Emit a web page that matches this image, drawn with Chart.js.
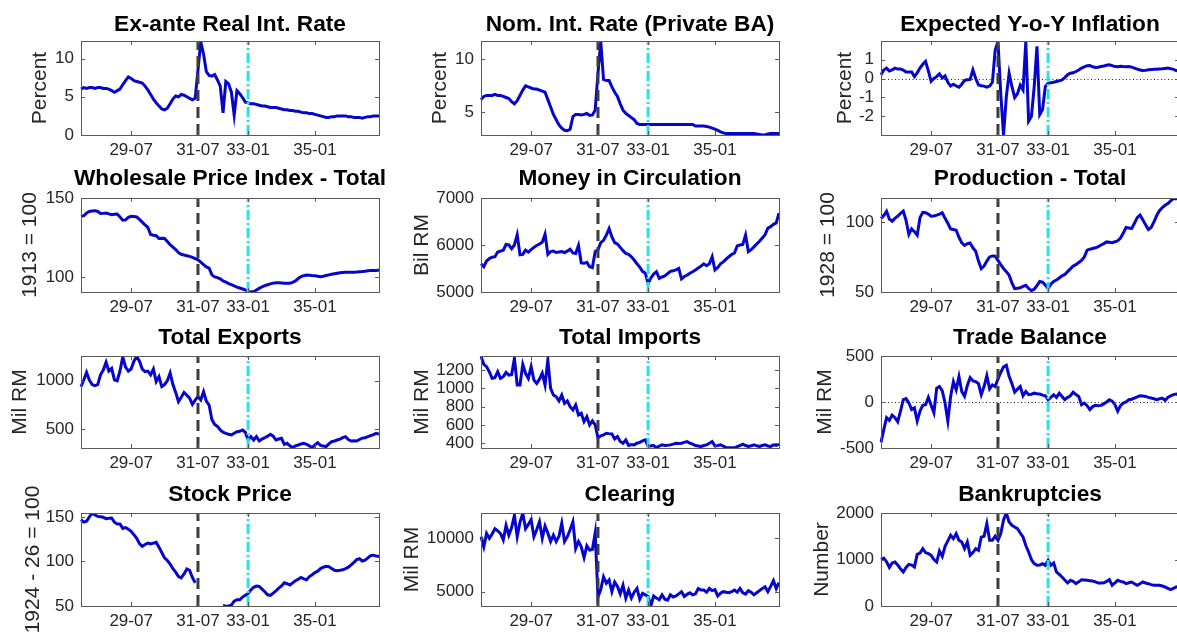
<!DOCTYPE html>
<html>
<head>
<meta charset="utf-8">
<script src="https://cdn.jsdelivr.net/npm/chart.js@4.4.1/dist/chart.umd.min.js"></script>
<style>
  html, body { margin: 0; padding: 0; background: #fff; overflow: hidden; }
  body { width: 1177px; height: 633px; position: relative; }
  canvas { position: absolute; }
</style>
</head>
<body>
<script>
// monthly axis Jan 1928 .. Dec 1936, labels as YY-MM
const months = [];
for (let yr = 28; yr <= 36; yr++) {
    for (let m = 1; m <= 12; m++) months.push(yr + '-' + String(m).padStart(2, '0'));
}
const xTickLabels = ['29-07', '31-07', '33-01', '35-01'];
const crisisMonth = '31-07';
const seizureMonth = '33-01';

// one row per year
const realRate = [
    6.0, 6.2, 6.1, 6.2, 6.2, 6.1, 6.2, 6.2, 6.1, 6.1, 6.0, 5.8,
    5.6, 5.8, 6.0, 6.6, 7.1, 7.6, 7.4, 7.1, 7.0, 6.9, 6.8, 6.4,
    5.9, 5.3, 4.7, 4.2, 3.8, 3.4, 3.3, 3.5, 4.1, 4.7, 5.1, 5.0,
    5.3, 5.2, 5.0, 4.8, 4.6, 4.8, 8.5, 12.2, 10.6, 8.3, 7.8, 7.7,
    7.9, 7.2, 6.4, 2.9, 7.0, 6.7, 5.6, 2.6, 5.8, 5.4, 4.9, 4.3,
    4.2, 4.1, 4.1, 4.0, 3.9, 3.8, 3.8, 3.7, 3.6, 3.6, 3.6, 3.5,
    3.4, 3.3, 3.3, 3.2, 3.2, 3.1, 3.1, 3.0, 2.9, 2.9, 2.8, 2.8,
    2.7, 2.6, 2.5, 2.4, 2.3, 2.3, 2.4, 2.4, 2.5, 2.5, 2.5, 2.5,
    2.4, 2.4, 2.3, 2.3, 2.3, 2.2, 2.3, 2.4, 2.4, 2.5, 2.5, 2.5
];
const nomRate = [
    6.2, 6.5, 6.6, 6.6, 6.6, 6.7, 6.6, 6.6, 6.5, 6.4, 6.3, 6.0,
    5.8, 6.1, 6.6, 7.1, 7.5, 7.4, 7.3, 7.2, 7.2, 7.1, 7.0, 6.9,
    6.2, 5.5, 4.8, 4.3, 3.8, 3.5, 3.3, 3.25, 3.4, 4.6, 4.8, 4.8,
    4.75, 4.8, 4.9, 4.7, 4.75, 5.2, 8.7, 11.7, 8.1, 8.0, 8.0, 7.4,
    6.9, 6.5, 5.8, 5.2, 4.9, 4.7, 4.5, 4.3, 3.95, 3.85, 3.85, 3.85,
    3.85, 3.85, 3.85, 3.85, 3.85, 3.85, 3.85, 3.85, 3.85, 3.85, 3.85, 3.85,
    3.85, 3.85, 3.85, 3.85, 3.85, 3.7, 3.7, 3.7, 3.7, 3.65, 3.6, 3.5,
    3.4, 3.3, 3.15, 3.05, 3.0, 3.0, 3.0, 3.0, 3.0, 3.0, 3.0, 3.0,
    3.0, 3.0, 3.0, 2.95, 2.9, 2.85, 2.85, 2.95, 3.0, 3.0, 3.0, 3.0
];
const expInfl = [
    0.2, 0.45, 0.55, 0.4, 0.45, 0.55, 0.5, 0.5, 0.45, 0.35, 0.35, 0.35,
    0.1, 0.3, 0.55, 0.75, 0.9, 0.4, -0.15, 0.0, 0.1, 0.25, 0.02, 0.14,
    -0.2, -0.39, -0.3, -0.39, -0.46, -0.3, -0.1, -0.07, -0.05, 0.46, 0.0, -0.34,
    -0.38, -0.4, -0.46, -0.4, -0.2, 1.5, 1.95, -0.8, -2.98, -0.95, 0.28, -0.42,
    -1.0, -0.8, -0.35, -0.6, 1.95, -2.25, -2.0, -0.45, 1.7, -1.9, -1.65, -0.42,
    -0.25, -0.22, -0.2, -0.16, -0.12, -0.07, 0.05, 0.2, 0.28, 0.3, 0.37, 0.45,
    0.55, 0.62, 0.68, 0.69, 0.62, 0.58, 0.6, 0.63, 0.66, 0.7, 0.72, 0.68,
    0.63, 0.62, 0.65, 0.63, 0.62, 0.63, 0.6, 0.55, 0.5, 0.45, 0.42, 0.43,
    0.46, 0.47, 0.49, 0.49, 0.5, 0.51, 0.53, 0.55, 0.52, 0.48, 0.42, 0.4
];
const wpi = [
    138.4, 138.8, 140.5, 141.5, 141.8, 142, 141.5, 140.2, 140.3, 140.5, 140, 139.5,
    139.8, 139.9, 138, 136, 136.2, 137.8, 138.4, 138.3, 138, 136.5, 134.8, 133,
    131.4, 127, 126.5, 126.2, 124.5, 124.6, 124.5, 122.5, 120.5, 119, 117.5, 115.5,
    114.5, 114, 113.6, 113.2, 112.5, 111.8, 111, 109.5, 108, 106.5, 105.7, 101.5,
    100.2, 99.8, 99, 97.7, 97, 96, 95.3, 94.5, 93.8, 93.2, 92.6, 92,
    91, 90.9, 90.8, 92, 93, 94, 94.7, 95.3, 95.8, 96.3, 96.6, 96.6,
    96.4, 96.2, 96.2, 96.2, 96.8, 97.7, 99.2, 100.4, 101, 101.4, 101.3, 101.1,
    101, 100.7, 100.4, 100.6, 101.1, 101.5, 101.9, 102.2, 102.5, 102.8, 103, 103.2,
    103.2, 103.2, 103.2, 103.3, 103.5, 103.6, 103.8, 104.1, 104.2, 104.2, 104.2, 104.6
];
const money = [
    5600, 5540, 5660, 5710, 5740, 5750, 5850, 5870, 5890, 6010, 6000, 5920,
    6000, 6220, 5790, 5800, 5890, 5850, 5900, 5950, 5990, 6020, 6060, 6230,
    5800, 5860, 5870, 5840, 5850, 5860, 5840, 5870, 5910, 5830, 5820, 5990,
    5620, 5610, 5630, 5540, 5520, 5860, 5900, 6050, 6100, 6210, 6350, 6170,
    6050, 6020, 5950, 5880, 5820, 5800, 5750, 5680, 5600, 5530, 5440, 5400,
    5180, 5300, 5380, 5430, 5290, 5320, 5340, 5390, 5440, 5450, 5470, 5500,
    5280, 5330, 5360, 5400, 5430, 5470, 5510, 5550, 5600, 5560, 5600, 5750,
    5470, 5520, 5600, 5640, 5700, 5750, 5800, 5830, 5980, 6000, 6010, 6210,
    5860, 5900, 5960, 6020, 6080, 6150, 6220, 6360, 6390, 6440, 6470, 6680
];
const production = [
    102.4, 104.5, 107.5, 102, 100.5, 102.5, 104, 106, 107.6, 101, 91, 95,
    93, 90.5, 103, 106.7, 106.5, 105.5, 104, 104.2, 104.8, 105.5, 106.5, 102.5,
    99, 95, 94.5, 94, 89, 85, 83.3, 84.5, 85, 81.5, 79, 72,
    66.7, 68.5, 72, 75, 75.7, 75.5, 72.5, 69.5, 66.7, 64.5, 62, 56.5,
    52.4, 52.6, 53, 54, 54.8, 52.5, 51, 52, 54.5, 57.5, 57, 55,
    52.4, 55.5, 57.5, 58.5, 60, 61.5, 62.5, 64.5, 66.5, 68.5, 69.5, 71,
    72.5, 75, 79.8, 80.5, 81, 81.5, 82.3, 83.5, 84.5, 85.7, 85.5, 85.2,
    85.8, 86.5, 88.5, 92, 96, 95.6, 95.2, 99, 103, 104.8, 101.5, 98,
    94.5, 96, 100, 104.5, 108, 110.2, 111.8, 113.1, 115, 116.7, 116.5, 116.8
];
const exportsRM = [
    938, 1007, 1086, 1007, 960, 950, 960, 1060, 1110, 1190, 1100, 1127,
    1010, 1000, 1100, 1245, 1140, 1099, 1120, 1200, 1250, 1200, 1120, 1093,
    1099, 1060, 1120, 990, 1041, 940, 960, 1000, 1080, 960, 880, 784,
    830, 880, 850, 820, 757, 800, 836, 801, 887, 790, 750, 600,
    550, 530, 493, 470, 459, 450, 442, 460, 476, 480, 493, 470,
    390, 425, 390, 425, 380, 400, 414, 430, 449, 430, 390, 400,
    408, 345, 356, 330, 312, 330, 339, 350, 356, 346, 330, 310,
    340, 363, 335, 329, 322, 350, 373, 380, 390, 400, 415, 425,
    395, 380, 382, 380, 395, 410, 414, 425, 435, 445, 459, 450
];
const importsRM = [
    1350, 1262, 1236, 1180, 1110, 1116, 1182, 1109, 1127, 1174, 1145, 1150,
    1327, 1036, 1036, 1262, 1164, 1109, 1236, 1091, 1054, 1100, 1164, 1036,
    1309, 1000, 927, 909, 862, 927, 836, 862, 800, 764, 818, 709,
    727, 636, 691, 600, 644, 600, 460, 480, 490, 509, 505, 502,
    447, 473, 420, 400, 436, 375, 385, 382, 400, 410, 425, 436,
    364, 372, 375, 352, 370, 382, 375, 378, 382, 390, 400, 398,
    400, 410, 418, 400, 390, 375, 370, 364, 375, 382, 400, 418,
    371, 375, 382, 370, 352, 350, 350, 350, 364, 375, 389, 375,
    364, 372, 382, 372, 364, 375, 382, 370, 364, 382, 375, 389
];
const tradeBal = [
    -439, -300, -171, -200, -143, -171, -214, -100, 25, 36, -11, -82,
    -64, -207, -100, -36, -29, 50, -36, -118, 150, 168, 121, -11,
    -207, 61, 221, 132, 275, 114, 61, 180, 264, 230, 221, 200,
    79, 168, 286, 143, 186, 168, 250, 321, 382, 400, 280, 200,
    107, 140, 168, 68, 114, 79, 85, 96, 90, 86, 75, 68,
    25, 50, 79, 50, 96, 60, 25, 50, 68, 107, 80, 61,
    -29, -11, -40, -82, -50, -36, -40, -36, -20, 0, 25, 10,
    -29, -100, -40, -11, 0, 25, 30, 43, 55, 68, 65, 61,
    50, 43, 35, 25, 35, 43, 18, 50, 68, 80, 86, 80
];
// exchange closed from the banking crisis until spring 1932
const stockPrice = [
    146.8, 144, 145, 150, 154, 152, 150.5, 150, 149.5, 148, 148.3, 148.7,
    144, 142, 141.9, 137, 138, 136, 133.7, 130, 126, 120, 116.9, 119,
    120.5, 119.5, 120.5, 121.5, 116, 110, 104, 101, 97, 92, 88, 83,
    81.5, 86, 91.5, 90, 82, 76, null, null, null, null, null, null,
    null, null, null, 50.5, 49.8, 50, 51, 55.5, 57, 57, 60, 62,
    64, 68, 71, 72.5, 72, 69, 66, 62.5, 62, 64.5, 67, 70,
    72.5, 76, 75, 73.5, 76, 78.3, 80, 82, 80.5, 79.5, 83, 85,
    87.5, 89, 92, 93.5, 94.5, 94, 92, 90, 89.5, 90, 90.6, 92,
    93.5, 96, 99, 102, 103, 100.5, 101.5, 104, 106.5, 107, 106, 105.5
];
const clearing = [
    10150, 9200, 10450, 10000, 10400, 10900, 10700, 10450, 9850, 11200, 10300, 11000,
    12150, 10150, 11500, 12340, 10900, 11300, 11750, 10150, 10800, 11550, 10000, 11150,
    10500, 9700, 10300, 9700, 10200, 11400, 9700, 10150, 10800, 11550, 9050, 9700,
    9200, 8200, 9300, 8900, 8950, 10500, 4500, 5200, 6400, 5800, 6100, 5000,
    5900, 5500, 4800, 5600, 4400, 5150, 4400, 4950, 5300, 4300, 4850, 4700,
    4550, 3700, 4600, 4400, 4250, 4700, 4300, 4200, 4700, 4500, 4600, 4800,
    5000, 4550, 4750, 4900, 4700, 4800, 5300, 5150, 5150, 4950, 5300, 5100,
    5200, 4600, 4850, 5000, 4950, 4900, 5000, 5150, 4950, 5300, 4900, 4780,
    5100, 4950, 4700, 4900, 5100, 5300, 5450, 5000, 5500, 6030, 5300, 5850
];
const bankruptcies = [
    997, 1030, 950, 830, 925, 946, 880, 800, 731, 830, 896, 880,
    840, 1111, 1140, 1233, 1150, 1126, 1090, 1000, 946, 1183, 1068, 1283,
    1400, 1520, 1448, 1556, 1412, 1377, 1233, 1377, 1090, 1150, 1233, 1197,
    1480, 1500, 1771, 1412, 1412, 1500, 1412, 1556, 1850, 2000, 1807, 1735,
    1700, 1663, 1570, 1484, 1300, 1161, 1000, 911, 875, 880, 911, 875,
    982, 875, 925, 731, 680, 624, 560, 495, 552, 530, 480, 520,
    566, 560, 552, 545, 538, 520, 495, 495, 500, 530, 566, 444,
    500, 552, 530, 516, 480, 500, 516, 480, 444, 480, 516, 495,
    480, 460, 444, 444, 444, 430, 409, 380, 351, 380, 409, 420
];

// y tick labels per panel
const ticksRealRate = [0, 5, 10];
const ticksNomRate = [5, 10];
const ticksInfl = [-2, -1, 0, 1];
const ticksWpi = [100, 150];
const ticksMoney = [5000, 6000, 7000];
const ticksProd = [50, 100];
const ticksExports = [500, 1000];
const ticksImports = [400, 600, 800, 1000, 1200];
const ticksTrade = [-500, 0, 500];
const ticksStock = [50, 100, 150];
const ticksClearing = [5000, 10000];
const ticksBankr = [0, 1000, 2000];

// grid of axes boxes (pixels)
const colLeft = [81, 481, 881];
const rowTop = [41, 198, 356, 513];
const rowHeight = [94, 94, 92, 93];
const titleMid = [24.5, 179, 337.5, 494.5];
const boxW = 298;

const panels = [
    { title: 'Ex-ante Real Int. Rate', label: 'Percent', data: realRate, min: 0, max: 12.3, ticks: ticksRealRate, col: 0, row: 0, labelX: 40 },
    { title: 'Nom. Int. Rate (Private BA)', label: 'Percent', data: nomRate, min: 2.85, max: 11.75, ticks: ticksNomRate, col: 1, row: 0, labelX: 440 },
    { title: 'Expected Y-o-Y Inflation', label: 'Percent', data: expInfl, min: -2.98, max: 1.98, ticks: ticksInfl, zero: true, col: 2, row: 0, labelX: 845 },
    { title: 'Wholesale Price Index - Total', label: '1913 = 100', data: wpi, min: 90.7, max: 150, ticks: ticksWpi, col: 0, row: 1, labelX: 30 },
    { title: 'Money in Circulation', label: 'Bil RM', data: money, min: 5000, max: 7000, ticks: ticksMoney, col: 1, row: 1, labelX: 422 },
    { title: 'Production - Total', label: '1928 = 100', data: production, min: 50, max: 117, ticks: ticksProd, col: 2, row: 1, labelX: 828 },
    { title: 'Total Exports', label: 'Mil RM', data: exportsRM, min: 308, max: 1254, ticks: ticksExports, col: 0, row: 2, labelX: 20 },
    { title: 'Total Imports', label: 'Mil RM', data: importsRM, min: 348, max: 1353, ticks: ticksImports, col: 1, row: 2, labelX: 422 },
    { title: 'Trade Balance', label: 'Mil RM', data: tradeBal, min: -500, max: 500, ticks: ticksTrade, zero: true, col: 2, row: 2, labelX: 825 },
    { title: 'Stock Price', label: '1924 - 26 = 100', data: stockPrice, min: 50, max: 154.3, ticks: ticksStock, col: 0, row: 3, labelX: 33 },
    { title: 'Clearing', label: 'Mil RM', data: clearing, min: 3660, max: 12370, ticks: ticksClearing, col: 1, row: 3, labelX: 412 },
    { title: 'Bankruptcies', label: 'Number', data: bankruptcies, min: 0, max: 2000, ticks: ticksBankr, col: 2, row: 3, labelX: 822 }
];

const FONT = '"Liberation Sans", Arial, Helvetica, sans-serif';
Chart.defaults.font.family = FONT;
Chart.defaults.color = '#262626';

function vline(ctx, x, a, color, dash) {
    ctx.strokeStyle = color;
    ctx.lineWidth = 3;
    ctx.setLineDash(dash);
    ctx.beginPath();
    ctx.moveTo(x, a.bottom);
    ctx.lineTo(x, a.top);
    ctx.stroke();
}

// matlab-ish axes: zero line, event lines, box, inward ticks, bold title
const matlabAxes = {
    id: 'matlabAxes',
    beforeDatasetsDraw(chart, args, opts) {
        if (!opts.zero) return;
        const { ctx, chartArea: a, scales: { y } } = chart;
        const y0 = Math.round(y.getPixelForValue(0)) + 0.5;
        ctx.save();
        ctx.strokeStyle = '#222';
        ctx.lineWidth = 1;
        ctx.setLineDash([1, 2.5]);
        ctx.beginPath();
        ctx.moveTo(a.left, y0);
        ctx.lineTo(a.right, y0);
        ctx.stroke();
        ctx.restore();
    },
    afterDatasetsDraw(chart) {
        const { ctx, chartArea: a, scales: { x } } = chart;
        ctx.save();
        ctx.beginPath();
        ctx.rect(a.left, a.top, a.right - a.left, a.bottom - a.top);
        ctx.clip();
        vline(ctx, x.getPixelForValue(months.indexOf(crisisMonth)), a, '#3c3c3c', [11, 6]);
        vline(ctx, x.getPixelForValue(months.indexOf(seizureMonth)), a, 'rgb(30,228,238)', [10, 3, 2, 3]);
        ctx.restore();
    },
    afterDraw(chart, args, opts) {
        const { ctx, chartArea: a, scales: { x, y } } = chart;
        ctx.save();
        ctx.strokeStyle = '#5a5a5a';
        ctx.lineWidth = 1;
        ctx.setLineDash([]);
        ctx.strokeRect(a.left + 0.5, a.top + 0.5, a.right - a.left, a.bottom - a.top);
        ctx.beginPath();
        x.ticks.forEach(t => {
            const px = Math.round(x.getPixelForValue(t.value)) + 0.5;
            ctx.moveTo(px, a.bottom); ctx.lineTo(px, a.bottom - 4);
            ctx.moveTo(px, a.top); ctx.lineTo(px, a.top + 4);
        });
        y.ticks.forEach(t => {
            const py = Math.round(y.getPixelForValue(t.value)) + 0.5;
            ctx.moveTo(a.left, py); ctx.lineTo(a.left + 4, py);
            ctx.moveTo(a.right, py); ctx.lineTo(a.right - 4, py);
        });
        ctx.stroke();

        ctx.fillStyle = '#000';
        ctx.font = 'bold 22.7px ' + FONT;
        ctx.textAlign = 'center';
        ctx.textBaseline = 'middle';
        ctx.fillText(opts.title, (a.left + a.right) / 2, a.top - opts.titleGap);
        ctx.restore();
    }
};

panels.forEach(p => {
    const L = colLeft[p.col], T = rowTop[p.row], H = rowHeight[p.row];
    const cv = document.createElement('canvas');
    cv.width = 80 + boxW + 20;
    cv.height = 40 + H + 30;
    cv.style.left = (L - 80) + 'px';
    cv.style.top = (T - 40) + 'px';
    document.body.appendChild(cv);

    new Chart(cv, {
        type: 'line',
        data: {
            labels: months,
            datasets: [{
                data: p.data,
                borderColor: 'rgb(5,5,205)',
                borderWidth: 3,
                pointRadius: 0,
                tension: 0,
                spanGaps: false,
                fill: false
            }]
        },
        options: {
            responsive: false,
            animation: false,
            devicePixelRatio: 1,
            layout: { padding: { left: 0, right: 20, top: 40, bottom: 0 } },
            plugins: {
                legend: { display: false },
                tooltip: { enabled: false },
                matlabAxes: { title: p.title, titleGap: T - titleMid[p.row], zero: !!p.zero }
            },
            scales: {
                x: {
                    grid: { display: false, drawTicks: false },
                    border: { display: false },
                    ticks: { autoSkip: false, maxRotation: 0, padding: 5, color: '#262626', font: { size: 17 } },
                    afterBuildTicks: s => { s.ticks = xTickLabels.map(l => ({ value: months.indexOf(l) })); },
                    afterFit: s => { s.height = 30; }
                },
                y: {
                    min: p.min,
                    max: p.max,
                    grid: { display: false, drawTicks: false },
                    border: { display: false },
                    ticks: { autoSkip: false, padding: 7, color: '#262626', font: { size: 17 }, callback: v => String(v) },
                    afterBuildTicks: s => { s.ticks = p.ticks.map(v => ({ value: v })); },
                    afterFit: s => { s.width = 80; },
                    title: {
                        display: true,
                        text: p.label,
                        color: '#262626',
                        font: { size: 21 },
                        padding: { top: p.labelX - (L - 80) - 12.6, bottom: 0 }
                    }
                }
            }
        },
        plugins: [matlabAxes]
    });
});
</script>
</body>
</html>
